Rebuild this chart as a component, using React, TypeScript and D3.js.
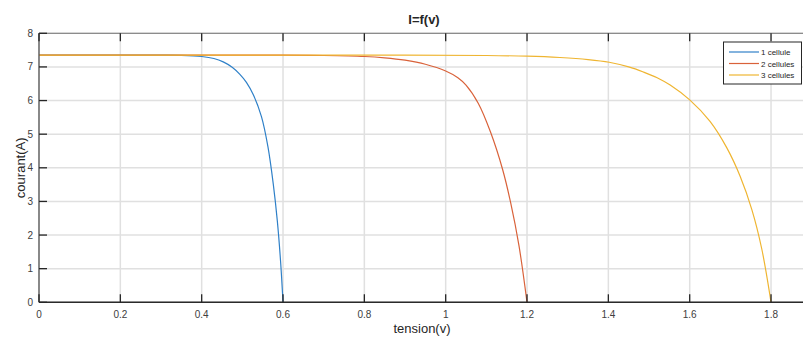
import React from "react";
import * as d3 from "d3";

const W = 803;
const H = 338;

// Data
const xTicks = [0, 0.2, 0.4, 0.6, 0.8, 1, 1.2, 1.4, 1.6, 1.8];
const yTicks = [0, 1, 2, 3, 4, 5, 6, 7, 8];

const v1 = [0, 0.2, 0.3, 0.35, 0.4, 0.43, 0.453, 0.475, 0.494, 0.51, 0.527, 0.547, 0.563, 0.576, 0.586, 0.594, 0.6];
const i1 = [7.35, 7.35, 7.35, 7.345, 7.31, 7.25, 7.15, 6.99, 6.78, 6.54, 6.17, 5.52, 4.62, 3.52, 2.42, 1.22, 0];

const v2 = [0, 0.4, 0.6, 0.7, 0.8, 0.85, 0.9, 0.95, 1.0, 1.03, 1.05, 1.08, 1.11, 1.14, 1.16, 1.18, 1.2];
const i2 = [7.35, 7.35, 7.35, 7.34, 7.31, 7.27, 7.2, 7.08, 6.88, 6.68, 6.46, 5.92, 5.07, 3.95, 2.95, 1.7, 0];

const v3 = [0, 0.6, 0.9, 1.1, 1.2, 1.281, 1.35, 1.402, 1.45, 1.486, 1.52, 1.552, 1.6, 1.65, 1.691, 1.724, 1.753, 1.777, 1.8];
const i3 = [7.35, 7.35, 7.35, 7.34, 7.32, 7.28, 7.22, 7.14, 7.0, 6.85, 6.68, 6.46, 6.02, 5.38, 4.6, 3.75, 2.75, 1.6, 0];

const seriesNames = ["1 cellule", "2 cellules", "3 cellules"];
const seriesColors = ["#2f80c8", "#d9623a", "#efb531"];

const FONT = "'Liberation Sans', Arial, Helvetica, sans-serif";

export default function App() {
  const left = 39;
  const right = 811.7;
  const top = 33.3;
  const bottom = 302.3;

  const x = d3.scaleLinear().domain([0, 1.9]).range([left, right]);
  const y = d3.scaleLinear().domain([0, 8]).range([bottom, top]);

  const line = d3
    .line<[number, number]>()
    .x((d) => x(d[0]))
    .y((d) => y(d[1]))
    .curve(d3.curveCatmullRom.alpha(0.5));

  const series = [
    v1.map((v, k) => [v, i1[k]] as [number, number]),
    v2.map((v, k) => [v, i2[k]] as [number, number]),
    v3.map((v, k) => [v, i3[k]] as [number, number]),
  ];

  const tickLen = 8;
  const legX = 723.5;
  const legY = 42;
  const legW = 78;
  const legH = 42;

  return (
    <svg
      width={W}
      height={H}
      style={{ position: "fixed", left: 0, top: 0, background: "#fff" }}
      fontFamily={FONT}
    >
      <rect x={0} y={0} width={W} height={H} fill="#fff" />
      {/* grid */}
      {xTicks.map((t) => (
        <line key={"gx" + t} x1={x(t)} x2={x(t)} y1={top} y2={bottom} stroke="#e0e0e0" strokeWidth={1.5} />
      ))}
      {yTicks.map((t) => (
        <line key={"gy" + t} x1={left} x2={right} y1={y(t)} y2={y(t)} stroke="#e0e0e0" strokeWidth={1.5} />
      ))}
      {/* curves */}
      <defs>
        <clipPath id="clip">
          <rect x={left} y={top} width={right - left} height={bottom - top} />
        </clipPath>
      </defs>
      <g clipPath="url(#clip)">
        {series.map((s, k) => (
          <path key={k} d={line(s) || ""} fill="none" stroke={seriesColors[k]} strokeWidth={1.2} />
        ))}
      </g>
      {/* box */}
      <line x1={left} x2={right} y1={top} y2={top} stroke="#8c8c8c" strokeWidth={1.3} />
      <line x1={right} x2={right} y1={top} y2={bottom} stroke="#8c8c8c" strokeWidth={1.3} />
      <line x1={left} x2={left} y1={top} y2={bottom} stroke="#555" strokeWidth={1.3} />
      <line x1={left} x2={right} y1={bottom} y2={bottom} stroke="#2a2a2a" strokeWidth={1.6} />
      {/* ticks */}
      {xTicks.map((t) => (
        <g key={"tx" + t}>
          <line x1={x(t)} x2={x(t)} y1={bottom} y2={bottom - tickLen} stroke="#262626" strokeWidth={1.3} />
          <line x1={x(t)} x2={x(t)} y1={top} y2={top + tickLen} stroke="#262626" strokeWidth={1.3} />
          <text x={x(t)} y={318} textAnchor="middle" fontSize={10} fill="#404040">
            {String(t)}
          </text>
        </g>
      ))}
      {yTicks.map((t) => (
        <g key={"ty" + t}>
          <line x1={left} x2={left + tickLen} y1={y(t)} y2={y(t)} stroke="#262626" strokeWidth={1.3} />
          <line x1={right} x2={right - tickLen} y1={y(t)} y2={y(t)} stroke="#262626" strokeWidth={1.3} />
          <text x={33} y={y(t) + 3.5} textAnchor="end" fontSize={10} fill="#404040">
            {String(t)}
          </text>
        </g>
      ))}
      {/* title & labels */}
      <text x={424} y={24} textAnchor="middle" fontSize={13} fontWeight="bold" fill="#262626">
        I=f(v)
      </text>
      <text x={422} y={333} textAnchor="middle" fontSize={13} fill="#262626">
        tension(v)
      </text>
      <text
        transform={`translate(25, ${(top + bottom) / 2}) rotate(-90)`}
        textAnchor="middle"
        fontSize={13}
        fill="#262626"
      >
        courant(A)
      </text>
      {/* legend */}
      <rect x={legX} y={legY} width={legW} height={legH} fill="#fff" stroke="#262626" strokeWidth={1} />
      {seriesNames.map((n, k) => {
        const ly = 52 + k * 11.5;
        return (
          <g key={n}>
            <line x1={729} x2={759} y1={ly} y2={ly} stroke={seriesColors[k]} strokeWidth={1.2} />
            <text x={761} y={ly + 3} fontSize={8} fill="#262626">
              {n}
            </text>
          </g>
        );
      })}
    </svg>
  );
}
